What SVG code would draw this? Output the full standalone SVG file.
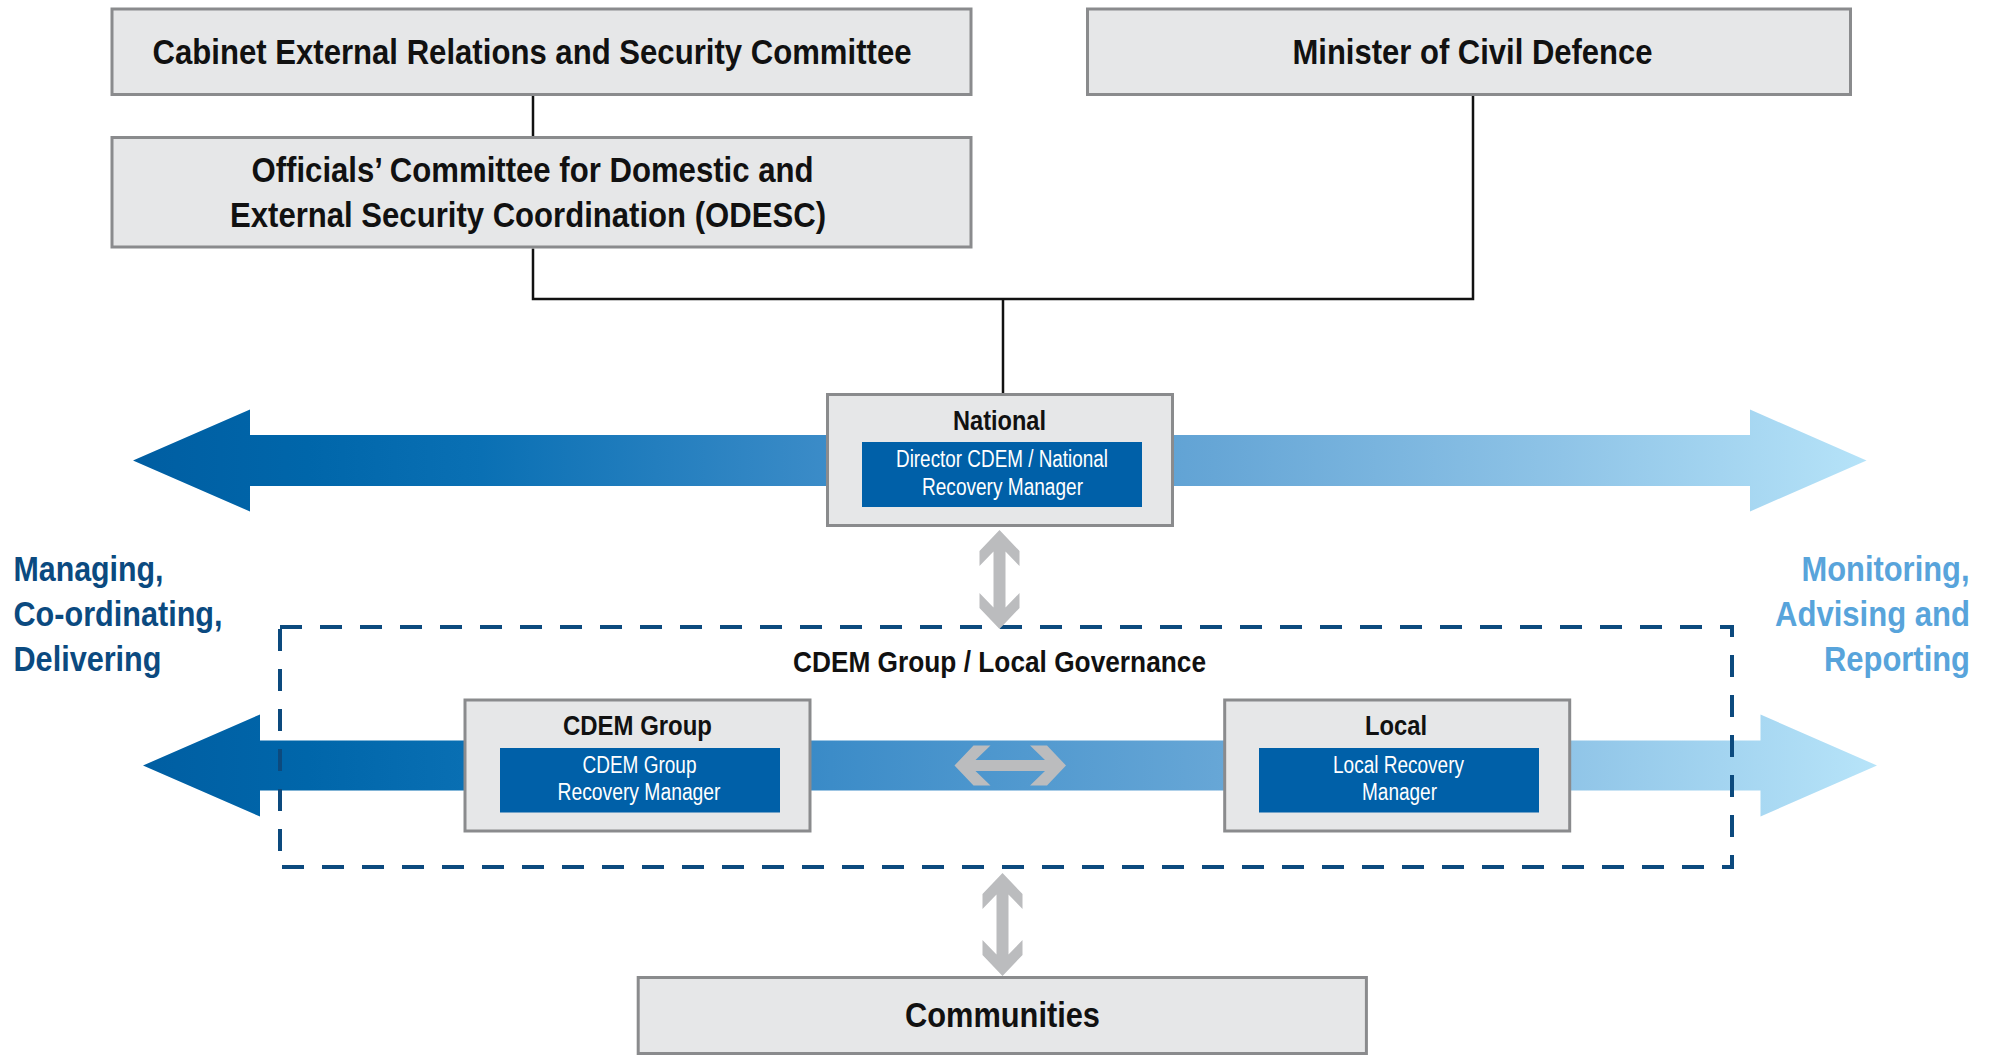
<svg xmlns="http://www.w3.org/2000/svg" width="1993" height="1055" viewBox="0 0 1993 1055">
  <defs>
    <style>
      .box { fill: #e6e7e8; stroke: #8a8b8d; stroke-width: 3; }
      .inner { fill: #0060a8; }
      .wire { fill: none; stroke: #111111; stroke-width: 2.5; }
      .t { font-family: "Liberation Sans Narrow", "Liberation Sans", Arial, sans-serif; text-anchor: middle; }
      .title { font-weight: bold; fill: #111111; }
      .white { fill: #ffffff; font-size: 23px; }
      .side { font-family: "Liberation Sans Narrow", "Liberation Sans", Arial, sans-serif; font-weight: bold; font-size: 35px; }
      .swap { fill: #bbbcbe; }
    </style>
    <linearGradient id="flow" gradientUnits="userSpaceOnUse" x1="133" y1="0" x2="1877" y2="0">
      <stop offset="0" stop-color="#005ea2"/>
      <stop offset="0.1" stop-color="#0066aa"/>
      <stop offset="0.2" stop-color="#0a70b4"/>
      <stop offset="0.4" stop-color="#3c8cc8"/>
      <stop offset="0.62" stop-color="#66a6d6"/>
      <stop offset="0.82" stop-color="#8fc4e7"/>
      <stop offset="1" stop-color="#b7e4f9"/>
    </linearGradient>
  </defs>

  <rect width="1993" height="1055" fill="#ffffff"/>

  <!-- wide flow arrows behind the level boxes -->
  <g id="flow-arrows" fill="url(#flow)">
    <polygon points="133,460.5 250,409.5 250,435 1750,435 1750,409.5 1866.5,460.5 1750,511.5 1750,486 250,486 250,511.5"/>
    <polygon points="143,765.5 260,714.5 260,740.5 1760.5,740.5 1760.5,714.5 1877,765.5 1760.5,816.5 1760.5,790.5 260,790.5 260,816.5"/>
  </g>

  <!-- regional governance boundary -->
  <g id="governance">
    <rect x="280" y="627" width="1452" height="240" fill="none" stroke="#0c4a7e" stroke-width="4" stroke-dasharray="22 18"/>
    <text class="t title" x="999.5" y="672" font-size="30" textLength="413" lengthAdjust="spacingAndGlyphs">CDEM Group / Local Governance</text>
  </g>

  <!-- reporting lines -->
  <g id="connectors">
    <path class="wire" d="M533,96 V136"/>
    <path class="wire" d="M533,248.5 V299 H1473 V96"/>
    <path class="wire" d="M1003,299 V393"/>
  </g>

  <g id="cabinet">
    <rect class="box" x="112" y="9" width="859" height="85.5"/>
    <text class="t title" x="532" y="63.5" font-size="34.5" textLength="759" lengthAdjust="spacingAndGlyphs">Cabinet External Relations and Security Committee</text>
  </g>

  <g id="minister">
    <rect class="box" x="1087.5" y="9" width="763" height="85.5"/>
    <text class="t title" x="1472.5" y="63.5" font-size="34.5" textLength="360" lengthAdjust="spacingAndGlyphs">Minister of Civil Defence</text>
  </g>

  <g id="odesc">
    <rect class="box" x="112" y="137.5" width="859" height="109.5"/>
    <text class="t title" x="532.5" y="181.5" font-size="34.5" textLength="562" lengthAdjust="spacingAndGlyphs">Officials’ Committee for Domestic and</text>
    <text class="t title" x="528" y="226.5" font-size="34.5" textLength="596" lengthAdjust="spacingAndGlyphs">External Security Coordination (ODESC)</text>
  </g>

  <g id="national">
    <rect class="box" x="827.5" y="394.5" width="345" height="131"/>
    <text class="t title" x="999.5" y="430" font-size="28.5" textLength="93" lengthAdjust="spacingAndGlyphs">National</text>
    <rect class="inner" x="862" y="442" width="280" height="65"/>
    <text class="t white" x="1002" y="467" textLength="212" lengthAdjust="spacingAndGlyphs">Director CDEM / National</text>
    <text class="t white" x="1002.5" y="494.5" textLength="161" lengthAdjust="spacingAndGlyphs">Recovery Manager</text>
  </g>

  <g id="cdem-group">
    <rect class="box" x="465" y="700" width="345" height="131"/>
    <text class="t title" x="637.5" y="735" font-size="28.5" textLength="149" lengthAdjust="spacingAndGlyphs">CDEM Group</text>
    <rect class="inner" x="500" y="748" width="280" height="64.5"/>
    <text class="t white" x="639.5" y="772.5" textLength="114" lengthAdjust="spacingAndGlyphs">CDEM Group</text>
    <text class="t white" x="639" y="800" textLength="163" lengthAdjust="spacingAndGlyphs">Recovery Manager</text>
  </g>

  <g id="local">
    <rect class="box" x="1224.7" y="700" width="345" height="131"/>
    <text class="t title" x="1396" y="735" font-size="28.5" textLength="62" lengthAdjust="spacingAndGlyphs">Local</text>
    <rect class="inner" x="1259" y="748" width="280" height="64.5"/>
    <text class="t white" x="1398.5" y="772.5" textLength="131" lengthAdjust="spacingAndGlyphs">Local Recovery</text>
    <text class="t white" x="1399.5" y="800" textLength="75" lengthAdjust="spacingAndGlyphs">Manager</text>
  </g>

  <g id="communities">
    <rect class="box" x="638.2" y="977.5" width="728.2" height="76"/>
    <text class="t title" x="1002.5" y="1027" font-size="35" textLength="195" lengthAdjust="spacingAndGlyphs">Communities</text>
  </g>

  <!-- two-way exchange arrows between levels -->
  <g id="exchange" class="swap">
    <polygon points="999.5,530 1019.5,551 1019.5,566 1005.5,551.5 1005.5,607.5 1019.5,593 1019.5,608 999.5,629 979.5,608 979.5,593 993.5,607.5 993.5,551.5 979.5,566 979.5,551"/>
    <polygon points="954.5,765.5 973.5,745.5 990.5,745.5 975.5,760 1045,760 1030,745.5 1047,745.5 1066,765.5 1047,785.5 1030,785.5 1045,771 975.5,771 990.5,785.5 973.5,785.5"/>
    <polygon points="1002.5,873 1022.5,894 1022.5,909 1008.5,894.5 1008.5,954.5 1022.5,940 1022.5,955 1002.5,976 982.5,955 982.5,940 996.5,954.5 996.5,894.5 982.5,909 982.5,894"/>
  </g>

  <g id="left-label" class="side" fill="#0b4a80">
    <text x="13.5" y="580.5" textLength="150" lengthAdjust="spacingAndGlyphs">Managing,</text>
    <text x="13.5" y="625.5" textLength="209" lengthAdjust="spacingAndGlyphs">Co-ordinating,</text>
    <text x="13.5" y="670.5" textLength="148" lengthAdjust="spacingAndGlyphs">Delivering</text>
  </g>

  <g id="right-label" class="side" fill="#58a4db">
    <text x="1801.5" y="580.5" textLength="168" lengthAdjust="spacingAndGlyphs">Monitoring,</text>
    <text x="1775" y="625.5" textLength="195" lengthAdjust="spacingAndGlyphs">Advising and</text>
    <text x="1824" y="670.5" textLength="146" lengthAdjust="spacingAndGlyphs">Reporting</text>
  </g>
</svg>
